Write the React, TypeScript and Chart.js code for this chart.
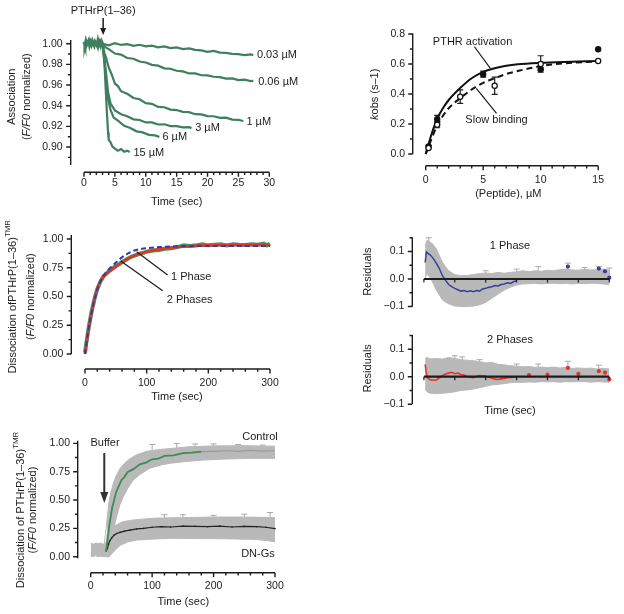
import { useEffect, useRef } from "react";
import { Chart, registerables } from "chart.js";

Chart.register(...registerables);

const FONT = '"Liberation Sans", Arial, Helvetica, sans-serif';
const W = 624;
const H = 614;
const YW = 60;
const XH = 40;
const INK = "#1c1c1c";
const GREEN_A = "#3f7f60";
const GREEN_C = "#3b9a5b";
const RED = "#e5322b";
const BLUE = "#2d3fb0";
const BLUE_R = "#3a3d9c";
const GRAY = "#b9b9b9";
const CAP = "#a9a9a9";

// ---------------- Panel A : association ----------------
const A_X_TICKS = [0, 5, 10, 15, 20, 25, 30];
const A_Y_TICKS = [0.9, 0.92, 0.94, 0.96, 0.98, 1.0];
const A_BASE_T = [0, 0.15, 0.3, 0.45, 0.6, 0.75, 0.9, 1.05, 1.2, 1.35, 1.5, 1.65, 1.8, 1.95, 2.1, 2.25, 2.4, 2.55, 2.7, 2.85, 3.0];
const A_BASE_V = [1.002, 0.9985, 1.0025, 0.999, 1.001, 1.003, 0.9985, 1.0015, 0.999, 1.0025, 1.0, 0.998, 1.002, 1.0005, 0.9985, 1.003, 0.999, 1.0015, 0.9985, 1.002, 1.0];
const A_C003_T = [3, 4, 5, 6, 7, 8, 9, 10, 11, 12, 13, 14, 15, 16, 17, 18, 19, 20, 21, 22, 23, 24, 25, 26, 27, 27.4];
const A_C003_V = [1.0, 0.9985, 1.0005, 0.9988, 0.9996, 0.998, 0.999, 0.9975, 0.9982, 0.9965, 0.9974, 0.9958, 0.9964, 0.9948, 0.9955, 0.994, 0.9936, 0.9922, 0.993, 0.9914, 0.9911, 0.9902, 0.99, 0.989, 0.9897, 0.9888];
const A_C006_T = [3, 3.5, 4, 5, 6, 7, 8, 9, 10, 11, 12, 13, 14, 15, 16, 17, 18, 19, 20, 21, 22, 23, 24, 25, 26, 27, 27.4];
const A_C006_V = [1.0, 0.9965, 0.9948, 0.9905, 0.9895, 0.9862, 0.9855, 0.9828, 0.9818, 0.9795, 0.9788, 0.9762, 0.9758, 0.9738, 0.9732, 0.9712, 0.9712, 0.9695, 0.9694, 0.968, 0.9676, 0.9662, 0.9664, 0.9648, 0.9652, 0.9638, 0.964];
const A_C1_T = [3, 3.3, 3.6, 4, 4.5, 5, 5.5, 6, 7, 8, 9, 10, 11, 12, 13, 14, 15, 16, 17, 18, 19, 20, 21, 22, 23, 24, 25, 25.8];
const A_C1_V = [1.0, 0.991, 0.986, 0.977, 0.97, 0.9615, 0.959, 0.954, 0.9515, 0.9475, 0.9462, 0.9425, 0.9418, 0.9388, 0.9385, 0.9362, 0.9358, 0.934, 0.9338, 0.9318, 0.9316, 0.93, 0.9298, 0.9282, 0.9284, 0.9266, 0.9262, 0.9252];
const A_C3_T = [3, 3.3, 3.6, 3.9, 4.3, 5, 6, 7, 8, 9, 10, 11, 12, 13, 14, 15, 16, 17, 17.4];
const A_C3_V = [1.0, 0.986, 0.97, 0.953, 0.942, 0.9355, 0.9318, 0.9298, 0.9268, 0.9262, 0.9238, 0.9238, 0.9218, 0.922, 0.9203, 0.9202, 0.919, 0.9192, 0.9183];
const A_C6_T = [3, 3.3, 3.6, 3.9, 4.3, 4.8, 5.5, 6.5, 7.5, 8.5, 9.5, 10.5, 11.5, 12.2];
const A_C6_V = [1.0, 0.984, 0.963, 0.946, 0.936, 0.9285, 0.9255, 0.9205, 0.9185, 0.9152, 0.9142, 0.9118, 0.9112, 0.9098];
const A_C15_T = [3, 3.3, 3.5, 3.7, 3.9, 4.0, 4.3, 4.6, 5.0, 5.5, 6.0, 6.5, 7.0, 7.4];
const A_C15_V = [1.0, 0.982, 0.958, 0.934, 0.914, 0.907, 0.9045, 0.9005, 0.8985, 0.8965, 0.898, 0.8955, 0.8965, 0.895];

// ---------------- Panel B : kobs ----------------
const B_X_TICKS = [0, 5, 10, 15];
const B_Y_TICKS = [0, 0.2, 0.4, 0.6, 0.8];
const B_FIT_X = [0, 0.5, 1, 1.5, 2, 3, 4, 5, 6, 7, 8, 10, 12, 15];
const B_ACT_Y = [0.0, 0.13, 0.235, 0.305, 0.36, 0.44, 0.505, 0.548, 0.572, 0.588, 0.598, 0.608, 0.614, 0.62];
const B_SLOW_Y = [0.0, 0.1, 0.19, 0.255, 0.305, 0.372, 0.43, 0.474, 0.505, 0.533, 0.553, 0.586, 0.604, 0.618];
const B_FILL_X = [0.25, 1, 5, 10, 15];
const B_FILL_Y = [0.05, 0.232, 0.532, 0.565, 0.698];
const B_FILL_E = [0.008, 0.025, 0.02, 0.01, 0.0];
const B_OPEN_X = [0.25, 1, 3, 6, 10, 15];
const B_OPEN_Y = [0.04, 0.195, 0.382, 0.455, 0.6, 0.62];
const B_OPEN_E = [0.0, 0.02, 0.045, 0.057, 0.055, 0.0];

// ---------------- Panel C : dissociation fits ----------------
const C_X_TICKS = [0, 100, 200, 300];
const C_Y_TICKS = [0, 0.25, 0.5, 0.75, 1.0];
const C_DATA_T = [0, 2, 4, 6, 8, 10, 12, 15, 18, 20, 25, 30, 35, 40, 45, 50, 55, 60, 65, 70, 75, 80, 85, 90, 95, 100, 110, 120, 130, 140, 150, 160, 170, 180, 190, 200, 210, 220, 230, 240, 250, 260, 270, 280, 290, 295, 300];
const C_DATA_V = [0.01, 0.09, 0.16, 0.23, 0.29, 0.35, 0.4, 0.47, 0.53, 0.565, 0.63, 0.675, 0.7, 0.725, 0.745, 0.765, 0.78, 0.8, 0.815, 0.83, 0.845, 0.855, 0.865, 0.875, 0.88, 0.89, 0.9, 0.905, 0.915, 0.92, 0.93, 0.945, 0.94, 0.945, 0.955, 0.945, 0.95, 0.955, 0.945, 0.955, 0.95, 0.948, 0.955, 0.95, 0.96, 0.945, 0.96];
const C_FIT_T = [0, 2, 5, 10, 15, 20, 25, 30, 40, 50, 60, 70, 80, 90, 100, 120, 150, 200, 250, 300];
const C_TWO_V = [0.0, 0.08, 0.19, 0.34, 0.47, 0.57, 0.635, 0.675, 0.72, 0.76, 0.795, 0.83, 0.855, 0.875, 0.89, 0.91, 0.93, 0.945, 0.948, 0.95];
const C_ONE_V = [0.0, 0.075, 0.19, 0.34, 0.46, 0.56, 0.63, 0.68, 0.745, 0.795, 0.84, 0.875, 0.9, 0.912, 0.92, 0.93, 0.937, 0.94, 0.94, 0.94];

// ---------------- Panel D : residuals, 1 phase ----------------
const R_X_TICKS = [100, 200, 300];
const R_Y_TICKS = [-0.1, 0, 0.1];
const D_BAND_T = [2, 5, 10, 15, 20, 25, 30, 35, 40, 50, 60, 70, 80, 90, 100, 110, 120, 130, 140, 150, 160, 170, 180, 190, 200, 210, 220, 230, 240, 250, 260, 270, 280, 290, 300];
const D_UP = [0.12, 0.14, 0.135, 0.125, 0.11, 0.085, 0.06, 0.045, 0.03, 0.016, 0.012, 0.013, 0.016, 0.02, 0.022, 0.02, 0.024, 0.021, 0.024, 0.026, 0.03, 0.027, 0.03, 0.028, 0.032, 0.03, 0.034, 0.036, 0.033, 0.032, 0.035, 0.033, 0.034, 0.036, 0.032];
const D_LO = [0.0, 0.02, 0.005, -0.015, -0.04, -0.058, -0.076, -0.084, -0.09, -0.098, -0.1, -0.1, -0.099, -0.094, -0.085, -0.07, -0.055, -0.04, -0.03, -0.022, -0.018, -0.017, -0.016, -0.018, -0.016, -0.015, -0.017, -0.016, -0.018, -0.016, -0.017, -0.015, -0.016, -0.018, -0.02];
const D_RES_T = [2, 4, 6, 10, 15, 20, 25, 30, 35, 40, 45, 50, 55, 60, 65, 70, 75, 80, 85, 90, 95, 100, 105, 110, 115, 120, 125, 130, 135, 140, 145, 150];
const D_RES_V = [0.06, 0.098, 0.094, 0.088, 0.075, 0.058, 0.038, 0.012, -0.005, -0.02, -0.028, -0.034, -0.039, -0.044, -0.042, -0.046, -0.043, -0.046, -0.042, -0.044, -0.036, -0.034, -0.03, -0.028, -0.024, -0.025, -0.02, -0.018, -0.014, -0.016, -0.01, -0.006];
const D_DOT_T = [233, 283, 293, 300];
const D_DOT_V = [0.045, 0.038, 0.028, 0.005];
const D_CAP_T = [8, 100, 150, 185, 233, 260, 283, 300];
const D_CAP_V = [0.15, 0.03, 0.036, 0.045, 0.058, 0.042, 0.046, 0.04];

// ---------------- Panel E : residuals, 2 phases ----------------
const E_BAND_T = [2, 5, 10, 20, 30, 40, 50, 60, 70, 80, 90, 100, 110, 120, 130, 140, 150, 160, 170, 180, 190, 200, 210, 220, 230, 240, 250, 260, 270, 280, 290, 300];
const E_UP = [0.065, 0.07, 0.065, 0.066, 0.064, 0.07, 0.066, 0.062, 0.06, 0.058, 0.055, 0.05, 0.052, 0.045, 0.043, 0.04, 0.038, 0.036, 0.037, 0.034, 0.035, 0.033, 0.035, 0.032, 0.034, 0.03, 0.032, 0.03, 0.031, 0.028, 0.03, 0.028];
const E_LO = [-0.045, -0.055, -0.06, -0.062, -0.06, -0.058, -0.055, -0.05, -0.048, -0.045, -0.04, -0.035, -0.03, -0.028, -0.025, -0.022, -0.02, -0.021, -0.019, -0.02, -0.018, -0.019, -0.018, -0.02, -0.018, -0.019, -0.017, -0.018, -0.02, -0.018, -0.019, -0.02];
const E_RES_T = [2, 4, 6, 10, 15, 20, 25, 30, 35, 40, 45, 50, 55, 60, 65, 70, 75, 80, 85, 90, 95, 100, 105, 110, 115, 120, 125, 130, 135, 140, 145, 150];
const E_RES_V = [0.045, 0.012, -0.004, -0.011, -0.013, -0.012, -0.004, 0.004, 0.01, 0.013, 0.016, 0.011, 0.013, 0.008, 0.006, 0.001, -0.002, -0.004, 0.001, 0.004, 0.003, 0.002, -0.002, -0.006, -0.009, -0.01, -0.008, -0.006, -0.004, -0.003, -0.002, 0.0];
const E_DOT_T = [170, 200, 233, 250, 283, 293, 300];
const E_DOT_V = [0.006, 0.008, 0.032, 0.01, 0.02, 0.015, -0.01];
const E_CAP_T = [50, 62, 90, 150, 185, 233, 283];
const E_CAP_V = [0.076, 0.072, 0.062, 0.046, 0.046, 0.056, 0.042];

// ---------------- Panel F : control vs DN-Gs ----------------
const F_X_TICKS = [0, 100, 200, 300];
const F_Y_TICKS = [0, 0.25, 0.5, 0.75, 1.0];
const F_PRE_T = [0, 4, 8, 12, 16, 20, 24, 27];
const F_PRE_UP = [0.12, 0.11, 0.12, 0.115, 0.12, 0.11, 0.12, 0.12];
const F_PRE_LO = [0.005, 0.0, 0.01, 0.0, 0.005, 0.0, 0.0, 0.0];
const F_CB_UP_T = [22, 24, 26, 28, 30, 33, 37, 42, 48, 56, 64, 75, 91, 110, 130, 160, 200, 250, 300];
const F_CB_UP = [0.12, 0.2, 0.3, 0.4, 0.49, 0.57, 0.65, 0.72, 0.78, 0.83, 0.865, 0.9, 0.93, 0.945, 0.955, 0.97, 0.978, 0.98, 0.975];
const F_CB_LO_T = [26, 30, 34, 38, 42, 47, 53, 60, 69, 80, 96, 115, 130, 155, 183, 220, 260, 300];
const F_CB_LO = [0.0, 0.0, 0.147, 0.26, 0.35, 0.45, 0.53, 0.6, 0.675, 0.725, 0.78, 0.81, 0.825, 0.84, 0.853, 0.862, 0.868, 0.868];
const F_CTRL_T = [25, 27, 29, 31, 33, 35, 38, 41, 45, 50, 55, 60, 70, 80, 90, 100, 110, 120, 135, 150, 165, 180];
const F_CTRL_V = [0.05, 0.135, 0.215, 0.305, 0.365, 0.435, 0.495, 0.565, 0.615, 0.675, 0.705, 0.745, 0.775, 0.815, 0.83, 0.86, 0.865, 0.89, 0.895, 0.915, 0.918, 0.927];
const F_TAIL_T = [180, 200, 220, 240, 260, 280, 300];
const F_TAIL_V = [0.927, 0.93, 0.935, 0.93, 0.938, 0.932, 0.935];
const F_DB_UP_T = [25, 27, 31, 37, 45, 53, 70, 102, 150, 200, 250, 300];
const F_DB_UP = [0.12, 0.2, 0.24, 0.265, 0.29, 0.31, 0.325, 0.34, 0.345, 0.35, 0.35, 0.345];
const F_DB_LO_T = [27, 30, 35, 41, 48, 60, 75, 100, 129, 170, 220, 270, 290, 300];
const F_DB_LO = [0.0, 0.0, 0.03, 0.065, 0.1, 0.13, 0.147, 0.155, 0.162, 0.16, 0.158, 0.152, 0.14, 0.13];
const F_DN_T = [25, 27, 29, 31, 34, 38, 42, 48, 55, 64, 75, 86, 100, 115, 130, 150, 170, 190, 210, 230, 250, 270, 285, 300];
const F_DN_V = [0.05, 0.07, 0.11, 0.14, 0.165, 0.19, 0.205, 0.215, 0.225, 0.235, 0.245, 0.25, 0.26, 0.265, 0.262, 0.27, 0.268, 0.265, 0.27, 0.262, 0.268, 0.265, 0.26, 0.248];
const F_CAP_T = [100, 140, 170, 200, 240, 280, 120, 150, 200, 250, 292];
const F_CAP_V = [0.99, 1.0, 0.995, 0.995, 0.99, 0.985, 0.37, 0.37, 0.365, 0.375, 0.39];

// ---------------- helpers ----------------
type Seg = { t: string; i?: boolean; sup?: boolean };
type AxisSpec = { at: number; from: number; step: number; n: number; every: number; phase: number };
type Deco = {
  yAxis?: AxisSpec;
  xAxis?: AxisSpec;
  zeroAxis?: { from: number; step: number; n: number };
  titles: { segs: Seg[]; x: number; y: number; rot?: boolean }[];
  texts: { segs: Seg[]; x: number; y: number; align: "left" | "center" | "right" }[];
  leaders?: number[][];
  arrows?: { x: number; y1: number; y2: number; head: number; hw: number; lw: number; color: string }[];
  errors?: { xs: number[]; ys: number[]; es: number[] }[];
  caps?: { xs: number[]; ys: number[] };
};

const pts = (xs: number[], ys: number[]) => xs.map((x, i) => ({ x, y: ys[i] }));

function line(xs: number[], ys: number[], color: string, width: number, extra: any = {}) {
  return { data: pts(xs, ys), borderColor: color, borderWidth: width, pointRadius: 0, fill: false, tension: 0, clip: false, ...extra };
}
function band(xsU: number[], up: number[], xsL: number[], lo: number[], order: number) {
  return [
    { data: pts(xsU, up), borderColor: GRAY, borderWidth: 1, backgroundColor: GRAY, pointRadius: 0, fill: "+1", tension: 0, clip: false, order },
    { data: pts(xsL, lo), borderColor: GRAY, borderWidth: 1, pointRadius: 0, fill: false, tension: 0, clip: false, order },
  ];
}
function dots(xs: number[], ys: number[], fillC: string, lineC: string, r: number, extra: any = {}) {
  return { data: pts(xs, ys), showLine: false, pointRadius: r, pointBackgroundColor: fillC, pointBorderColor: lineC, pointBorderWidth: 1.2, borderColor: lineC, clip: false, ...extra };
}

function drawSegs(ctx: CanvasRenderingContext2D, segs: Seg[], x: number, y: number, align: string, size: number, rot: boolean) {
  ctx.save();
  ctx.translate(x, y);
  if (rot) ctx.rotate(-Math.PI / 2);
  const parts = segs.map((s) => {
    const fs = s.sup ? size * 0.72 : size;
    const font = `${s.i ? "italic " : ""}${fs}px ${FONT}`;
    ctx.font = font;
    return { s, font, w: ctx.measureText(s.t).width };
  });
  const total = parts.reduce((a, p) => a + p.w, 0);
  let cx = align === "left" ? 0 : align === "right" ? -total : -total / 2;
  ctx.fillStyle = INK;
  ctx.textBaseline = "middle";
  ctx.textAlign = "left";
  for (const p of parts) {
    ctx.font = p.font;
    ctx.fillText(p.s.t, cx, p.s.sup ? -size * 0.42 : 0);
    cx += p.w;
  }
  ctx.restore();
}

function paper(deco: Deco) {
  return {
    id: "paper",
    beforeDatasetsDraw(chart: any) {
      const { ctx } = chart;
      const xs = chart.scales.x;
      const ys = chart.scales.y;
      ctx.save();
      if (deco.caps) {
        ctx.strokeStyle = CAP;
        ctx.lineWidth = 1;
        ctx.beginPath();
        deco.caps.xs.forEach((xv, i) => {
          const px = xs.getPixelForValue(xv);
          const py = ys.getPixelForValue(deco.caps!.ys[i]);
          ctx.moveTo(px - 3, py); ctx.lineTo(px + 3, py);
          ctx.moveTo(px, py); ctx.lineTo(px, py + 8);
        });
        ctx.stroke();
      }
      if (deco.errors) {
        ctx.strokeStyle = INK;
        ctx.lineWidth = 1.2;
        for (const e of deco.errors) {
          e.xs.forEach((xv, i) => {
            if (!e.es[i]) return;
            const px = xs.getPixelForValue(xv);
            const a = ys.getPixelForValue(e.ys[i] - e.es[i]);
            const b = ys.getPixelForValue(e.ys[i] + e.es[i]);
            ctx.beginPath();
            ctx.moveTo(px, a); ctx.lineTo(px, b);
            ctx.moveTo(px - 3, a); ctx.lineTo(px + 3, a);
            ctx.moveTo(px - 3, b); ctx.lineTo(px + 3, b);
            ctx.stroke();
          });
        }
      }
      ctx.restore();
    },
    afterDatasetsDraw(chart: any) {
      const { ctx, chartArea: ca } = chart;
      const xs = chart.scales.x;
      const ys = chart.scales.y;
      ctx.save();
      ctx.strokeStyle = INK;
      ctx.fillStyle = INK;
      ctx.lineWidth = 1.4;
      if (deco.yAxis) {
        const a = deco.yAxis;
        ctx.beginPath();
        ctx.moveTo(a.at, ca.top);
        ctx.lineTo(a.at, ca.bottom);
        for (let i = 0; i < a.n; i++) {
          const py = ys.getPixelForValue(a.from + i * a.step);
          const len = (i - a.phase) % a.every === 0 ? 4.5 : 2.8;
          ctx.moveTo(a.at, py);
          ctx.lineTo(a.at - len, py);
        }
        ctx.stroke();
      }
      if (deco.xAxis) {
        const a = deco.xAxis;
        ctx.beginPath();
        ctx.moveTo(ca.left, a.at);
        ctx.lineTo(ca.right, a.at);
        for (let i = 0; i < a.n; i++) {
          const px = xs.getPixelForValue(a.from + i * a.step);
          const len = (i - a.phase) % a.every === 0 ? 4.5 : 2.8;
          ctx.moveTo(px, a.at);
          ctx.lineTo(px, a.at + len);
        }
        ctx.stroke();
      }
      if (deco.zeroAxis) {
        const z = deco.zeroAxis;
        const py = ys.getPixelForValue(0);
        ctx.lineWidth = 2.2;
        ctx.beginPath();
        ctx.moveTo(ca.left, py);
        ctx.lineTo(ca.right, py);
        ctx.stroke();
        ctx.lineWidth = 1.2;
        ctx.beginPath();
        for (let i = 0; i < z.n; i++) {
          const px = xs.getPixelForValue(z.from + i * z.step);
          ctx.moveTo(px, py);
          ctx.lineTo(px, py + 3.5);
        }
        ctx.stroke();
      }
      if (deco.leaders) {
        ctx.lineWidth = 1.2;
        ctx.beginPath();
        for (const l of deco.leaders) {
          ctx.moveTo(xs.getPixelForValue(l[0]), ys.getPixelForValue(l[1]));
          ctx.lineTo(xs.getPixelForValue(l[2]), ys.getPixelForValue(l[3]));
        }
        ctx.stroke();
      }
      if (deco.arrows) {
        for (const a of deco.arrows) {
          const px = xs.getPixelForValue(a.x);
          const y1 = ys.getPixelForValue(a.y1);
          const y2 = ys.getPixelForValue(a.y2);
          const dir = Math.sign(y2 - y1);
          ctx.strokeStyle = a.color;
          ctx.fillStyle = a.color;
          ctx.lineWidth = a.lw;
          ctx.beginPath();
          ctx.moveTo(px, y1);
          ctx.lineTo(px, y2 - dir * a.head);
          ctx.stroke();
          ctx.beginPath();
          ctx.moveTo(px - a.hw / 2, y2 - dir * a.head);
          ctx.lineTo(px + a.hw / 2, y2 - dir * a.head);
          ctx.lineTo(px, y2);
          ctx.closePath();
          ctx.fill();
        }
      }
      for (const t of deco.texts) {
        drawSegs(ctx, t.segs, xs.getPixelForValue(t.x), ys.getPixelForValue(t.y), t.align, 11, false);
      }
      for (const t of deco.titles) {
        drawSegs(ctx, t.segs, t.x, t.y, "center", 11, !!t.rot);
      }
      ctx.restore();
    },
  };
}

type Panel = {
  area: { l: number; t: number; r: number; b: number };
  x: [number, number];
  y: [number, number];
  xTicks: number[];
  yTicks: number[];
  xFmt: (v: number) => string;
  yFmt: (v: number) => string;
  xPad: number;
  yPad: number;
  datasets: any[];
  deco: Deco;
};

const fix = (d: number) => (v: number) => (v < 0 ? "\u2212" + Math.abs(v).toFixed(d) : v.toFixed(d));
const int = (v: number) => String(Math.round(v));
const TIME: Seg[] = [{ t: "Time (sec)" }];
const FNORM: Seg[] = [{ t: "(" }, { t: "F/F0", i: true }, { t: " normalized)" }];

const PANELS: Panel[] = [
  {
    area: { l: 84, t: 40, r: 269.3, b: 165 },
    x: [0, 30],
    y: [0.8826, 1.0036],
    xTicks: A_X_TICKS,
    yTicks: A_Y_TICKS,
    xFmt: int,
    yFmt: fix(2),
    xPad: 12,
    yPad: 21.3,
    datasets: [
      line(A_BASE_T, A_BASE_V, GREEN_A, 3),
      line(A_C003_T, A_C003_V, GREEN_A, 2.2),
      line(A_C006_T, A_C006_V, GREEN_A, 2.2),
      line(A_C1_T, A_C1_V, GREEN_A, 2.2),
      line(A_C3_T, A_C3_V, GREEN_A, 2.2),
      line(A_C6_T, A_C6_V, GREEN_A, 2.2),
      line(A_C15_T, A_C15_V, GREEN_A, 2.2),
    ],
    deco: {
      yAxis: { at: 70.7, from: 0.89, step: 0.01, n: 12, every: 2, phase: 1 },
      xAxis: { at: 172.3, from: 0, step: 1, n: 31, every: 5, phase: 0 },
      titles: [
        { segs: [{ t: "Association" }], x: 11.7, y: 96.7, rot: true },
        { segs: FNORM, x: 26.7, y: 96.7, rot: true },
        { segs: TIME, x: 176.7, y: 201.7 },
      ],
      texts: [
        { segs: [{ t: "PTHrP(1\u201336)" }], x: 3.1, y: 1.0317, align: "center" },
        { segs: [{ t: "0.03 \u00b5M" }], x: 28.0, y: 0.989, align: "left" },
        { segs: [{ t: "0.06 \u00b5M" }], x: 28.2, y: 0.9632, align: "left" },
        { segs: [{ t: "1 \u00b5M" }], x: 26.3, y: 0.9245, align: "left" },
        { segs: [{ t: "3 \u00b5M" }], x: 18.0, y: 0.918, align: "left" },
        { segs: [{ t: "6 \u00b5M" }], x: 12.7, y: 0.9094, align: "left" },
        { segs: [{ t: "15 \u00b5M" }], x: 8.0, y: 0.894, align: "left" },
      ],
      arrows: [{ x: 3.1, y1: 1.0249, y2: 1.0084, head: 7, hw: 6, lw: 1.5, color: INK }],
    },
  },
  {
    area: { l: 425.7, t: 33.3, r: 610.7, b: 154 },
    x: [0, 15],
    y: [0, 0.8047],
    xTicks: B_X_TICKS,
    yTicks: B_Y_TICKS,
    xFmt: int,
    yFmt: fix(1),
    xPad: 20,
    yPad: 20.7,
    datasets: [
      line(B_FIT_X, B_ACT_Y, "#111", 2, { cubicInterpolationMode: "monotone", order: 3 }),
      line(B_FIT_X, B_SLOW_Y, "#111", 2, { cubicInterpolationMode: "monotone", borderDash: [6, 4], order: 3 }),
      dots(B_OPEN_X, B_OPEN_Y, "#fff", "#111", 2.6, { order: 1 }),
      dots(B_FILL_X, B_FILL_Y, "#111", "#111", 2.6, { order: 2 }),
    ],
    deco: {
      yAxis: { at: 412.7, from: 0, step: 0.1, n: 9, every: 2, phase: 0 },
      xAxis: { at: 165.7, from: 0, step: 1, n: 16, every: 5, phase: 0 },
      titles: [
        { segs: [{ t: "k", i: true }, { t: "obs (s\u20131)" }], x: 375, y: 94.3, rot: true },
        { segs: [{ t: "(Peptide), \u00b5M" }], x: 508.3, y: 194.3 },
      ],
      texts: [
        { segs: [{ t: "PTHR activation" }], x: 0.62, y: 0.749, align: "left" },
        { segs: [{ t: "Slow binding" }], x: 3.45, y: 0.227, align: "left" },
      ],
      leaders: [
        [4.24, 0.715, 5.62, 0.571],
        [4.4, 0.438, 6.16, 0.271],
      ],
      errors: [
        { xs: B_FILL_X, ys: B_FILL_Y, es: B_FILL_E },
        { xs: B_OPEN_X, ys: B_OPEN_Y, es: B_OPEN_E },
      ],
    },
  },
  {
    area: { l: 85, t: 235, r: 270, b: 354 },
    x: [0, 300],
    y: [0, 1.035],
    xTicks: C_X_TICKS,
    yTicks: C_Y_TICKS,
    xFmt: int,
    yFmt: fix(2),
    xPad: 22.7,
    yPad: 21.7,
    datasets: [
      line(C_DATA_T, C_DATA_V, GREEN_C, 4, { order: 4 }),
      line(C_FIT_T, C_TWO_V, RED, 2.6, { cubicInterpolationMode: "monotone", order: 3 }),
      line(C_FIT_T, C_ONE_V, BLUE, 2, { cubicInterpolationMode: "monotone", borderDash: [5, 3], order: 2 }),
    ],
    deco: {
      yAxis: { at: 71.3, from: 0, step: 0.125, n: 9, every: 2, phase: 0 },
      xAxis: { at: 369, from: 0, step: 20, n: 16, every: 5, phase: 0 },
      titles: [
        { segs: [{ t: "Dissociation ofPTHrP(1\u201336)" }, { t: "TMR", sup: true }], x: 12.7, y: 296.7, rot: true },
        { segs: FNORM, x: 30.7, y: 296.7, rot: true },
        { segs: TIME, x: 177, y: 396.7 },
      ],
      texts: [
        { segs: [{ t: "1 Phase" }], x: 139.5, y: 0.672, align: "left" },
        { segs: [{ t: "2 Phases" }], x: 132.5, y: 0.47, align: "left" },
      ],
      leaders: [
        [83.8, 0.89, 134, 0.687],
        [57.9, 0.809, 126, 0.55],
      ],
    },
  },
  {
    area: { l: 423.9, t: 237.3, r: 609.3, b: 306.7 },
    x: [0, 300],
    y: [-0.1007, 0.1516],
    xTicks: R_X_TICKS,
    yTicks: R_Y_TICKS,
    xFmt: int,
    yFmt: fix(1),
    xPad: -19,
    yPad: 19.6,
    datasets: [
      ...band(D_BAND_T, D_UP, D_BAND_T, D_LO, 5),
      line(D_RES_T, D_RES_V, BLUE_R, 1.5, { order: 1 }),
      dots(D_DOT_T, D_DOT_V, BLUE_R, BLUE_R, 1.5, { order: 1 }),
    ],
    deco: {
      yAxis: { at: 412.3, from: -0.1, step: 0.05, n: 6, every: 2, phase: 0 },
      zeroAxis: { from: 0, step: 50, n: 7 },
      titles: [{ segs: [{ t: "Residuals" }], x: 368.3, y: 271.7, rot: true }],
      texts: [{ segs: [{ t: "1 Phase" }], x: 139.3, y: 0.121, align: "center" }],
      caps: { xs: D_CAP_T, ys: D_CAP_V },
    },
  },
  {
    area: { l: 423.9, t: 335, r: 609.3, b: 404 },
    x: [0, 300],
    y: [-0.0993, 0.1516],
    xTicks: R_X_TICKS,
    yTicks: R_Y_TICKS,
    xFmt: int,
    yFmt: fix(1),
    xPad: -20,
    yPad: 19.6,
    datasets: [
      ...band(E_BAND_T, E_UP, E_BAND_T, E_LO, 5),
      line(E_RES_T, E_RES_V, RED, 1.6, { order: 1 }),
      dots(E_DOT_T, E_DOT_V, RED, RED, 1.5, { order: 1 }),
    ],
    deco: {
      yAxis: { at: 412.3, from: -0.1, step: 0.05, n: 6, every: 2, phase: 0 },
      zeroAxis: { from: 0, step: 50, n: 7 },
      titles: [
        { segs: [{ t: "Residuals" }], x: 368.3, y: 368.3, rot: true },
        { segs: TIME, x: 510, y: 410.7 },
      ],
      texts: [{ segs: [{ t: "2 Phases" }], x: 139.3, y: 0.133, align: "center" }],
      caps: { xs: E_CAP_T, ys: E_CAP_V },
    },
  },
  {
    area: { l: 90.7, t: 440.7, r: 275, b: 558.3 },
    x: [0, 300],
    y: [-0.0141, 1.0238],
    xTicks: F_X_TICKS,
    yTicks: F_Y_TICKS,
    xFmt: int,
    yFmt: fix(2),
    xPad: 21.1,
    yPad: 20.7,
    datasets: [
      ...band(F_PRE_T, F_PRE_UP, F_PRE_T, F_PRE_LO, 6),
      ...band(F_CB_UP_T, F_CB_UP, F_CB_LO_T, F_CB_LO, 6),
      ...band(F_DB_UP_T, F_DB_UP, F_DB_LO_T, F_DB_LO, 6),
      line(F_TAIL_T, F_TAIL_V, "#9a9a9a", 1.2, { order: 2 }),
      line(F_CTRL_T, F_CTRL_V, "#3f8a55", 1.8, { order: 1 }),
      line(F_DN_T, F_DN_V, "#222", 1.2, { order: 1, pointRadius: 0.8, pointBackgroundColor: "#222", pointBorderWidth: 0 }),
    ],
    deco: {
      yAxis: { at: 77.7, from: 0, step: 0.125, n: 9, every: 2, phase: 0 },
      xAxis: { at: 572.7, from: 0, step: 20, n: 16, every: 5, phase: 0 },
      titles: [
        { segs: [{ t: "Dissociation of PTHrP(1\u201336)" }, { t: "TMR", sup: true }], x: 20.7, y: 510, rot: true },
        { segs: FNORM, x: 33.3, y: 510, rot: true },
        { segs: TIME, x: 183.3, y: 601.7 },
      ],
      texts: [
        { segs: [{ t: "Buffer" }], x: 23.3, y: 1.006, align: "center" },
        { segs: [{ t: "Control" }], x: 304.4, y: 1.059, align: "right" },
        { segs: [{ t: "DN-Gs" }], x: 272.3, y: 0.024, align: "center" },
      ],
      arrows: [{ x: 22.1, y1: 0.915, y2: 0.474, head: 11, hw: 8, lw: 2, color: "#333" }],
      caps: { xs: F_CAP_T, ys: F_CAP_V },
    },
  },
];

function buildConfig(p: Panel): any {
  const tickFont = { family: FONT, size: 10.5 };
  return {
    type: "line",
    data: { datasets: p.datasets },
    options: {
      responsive: false,
      maintainAspectRatio: false,
      animation: false,
      devicePixelRatio: 1,
      events: [],
      layout: {
        padding: { left: p.area.l - YW, top: p.area.t, right: W - p.area.r, bottom: H - p.area.b - XH },
      },
      plugins: { legend: { display: false }, tooltip: { enabled: false } },
      scales: {
        x: {
          type: "linear",
          min: p.x[0],
          max: p.x[1],
          afterFit: (s: any) => { s.height = XH; },
          afterBuildTicks: (s: any) => { s.ticks = p.xTicks.map((v) => ({ value: v })); },
          grid: { display: false, drawTicks: false },
          border: { display: false },
          ticks: { padding: p.xPad, callback: (v: any) => p.xFmt(Number(v)), font: tickFont, color: INK, maxRotation: 0, autoSkip: false },
        },
        y: {
          type: "linear",
          min: p.y[0],
          max: p.y[1],
          afterFit: (s: any) => { s.width = YW; },
          afterBuildTicks: (s: any) => { s.ticks = p.yTicks.map((v) => ({ value: v })); },
          grid: { display: false, drawTicks: false },
          border: { display: false },
          ticks: { padding: p.yPad, callback: (v: any) => p.yFmt(Number(v)), font: tickFont, color: INK, autoSkip: false },
        },
      },
    },
    plugins: [paper(p.deco)],
  };
}

function PanelChart({ cfg }: { cfg: Panel }) {
  const ref = useRef<HTMLCanvasElement>(null);
  useEffect(() => {
    if (!ref.current) return;
    const chart = new Chart(ref.current, buildConfig(cfg));
    return () => chart.destroy();
  }, [cfg]);
  return (
    <canvas
      ref={ref}
      width={W}
      height={H}
      style={{ position: "absolute", left: 0, top: 0, width: W, height: H, pointerEvents: "none" }}
    />
  );
}

export default function App() {
  return (
    <div style={{ position: "absolute", left: 0, top: 0, width: W, height: H, background: "#fff", overflow: "hidden" }}>
      {PANELS.map((p, i) => (
        <PanelChart key={i} cfg={p} />
      ))}
    </div>
  );
}
